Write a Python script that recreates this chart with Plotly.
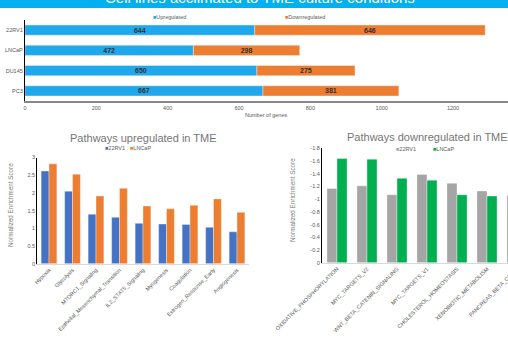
import plotly.graph_objects as go

# ---------------- data ----------------
cell_lines = ["22RV1", "LNCaP", "DU145", "PC3"]
up_genes = [644, 472, 650, 667]
down_genes = [646, 298, 275, 381]
gene_ticks = [0, 200, 400, 600, 800, 1000, 1200]
gene_tick_text = ["0", "200", "400", "600", "800", "1000", "1200"]

up_pathways = ["Hypoxia", "Glycolysis", "MTORC1_Signaling",
               "Epithelial_Mesenchymal_Transition", "IL2_STAT5_Signaling",
               "Myogenesis", "Coagulation", "Estrogen_Response_Early",
               "Angiogenesis"]
up_22rv1 = [2.62, 2.05, 1.40, 1.31, 1.14, 1.12, 1.11, 1.03, 0.90]
up_lncap = [2.82, 2.53, 1.91, 2.13, 1.63, 1.55, 1.65, 1.83, 1.45]
up_ticks = [0, 0.5, 1, 1.5, 2, 2.5, 3]
up_tick_text = ["0", "0.5", "1", "1.5", "2", "2.5", "3"]

down_pathways = ["OXIDATIVE_PHOSPHORYLATION", "MYC_TARGETS_V2",
                 "WNT_BETA_CATENIN_SIGNALING", "MYC_TARGETS_V1",
                 "CHOLESTEROL_HOMEOSTASIS", "XENOBIOTIC_METABOLISM",
                 "PANCREAS_BETA_CELLS"]
down_22rv1 = [-1.17, -1.21, -1.07, -1.39, -1.25, -1.13, -1.06]
down_lncap = [-1.64, -1.63, -1.33, -1.30, -1.07, -1.05, -1.00]
down_ticks = [0, -0.2, -0.4, -0.6, -0.8, -1.0, -1.2, -1.4, -1.6, -1.8]
down_tick_text = ["0", "-0.2", "-0.4", "-0.6", "-0.8", "-1", "-1.2", "-1.4", "-1.6", "-1.8"]

# ---------------- layout helpers ----------------
W, H = 540, 344
FONT = "Arial, Liberation Sans, sans-serif"
TICKC = "#595959"


def px(x):
    return x / W


def py(y):
    return 1 - y / H


edge = dict(color="rgba(255,255,255,0.6)", width=0.6)
barfont = dict(size=7, color="#303030", family=FONT, weight="bold")
fig = go.Figure()

# top stacked bars
fig.add_trace(go.Bar(y=cell_lines, x=up_genes, orientation="h", name="Upregulated",
                     marker=dict(color="#1FA8EC", line=edge),
                     text=up_genes, textposition="inside", insidetextanchor="middle",
                     textfont=barfont, constraintext="none",
                     offsetgroup="top", width=0.5,
                     xaxis="x", yaxis="y", showlegend=False))
fig.add_trace(go.Bar(y=cell_lines, x=down_genes, base=up_genes, orientation="h",
                     name="Downregulated",
                     marker=dict(color="#ED7D31", line=edge),
                     text=down_genes, textposition="inside", insidetextanchor="middle",
                     textfont=barfont, constraintext="none",
                     offsetgroup="top", width=0.5,
                     xaxis="x", yaxis="y", showlegend=False))

# bottom-left grouped bars
fig.add_trace(go.Bar(x=up_pathways, y=up_22rv1, name="22RV1",
                     marker=dict(color="#4472C4", line=edge),
                     xaxis="x2", yaxis="y2", showlegend=False))
fig.add_trace(go.Bar(x=up_pathways, y=up_lncap, name="LNCaP",
                     marker=dict(color="#ED7D31", line=edge),
                     xaxis="x2", yaxis="y2", showlegend=False))

# bottom-right grouped bars
fig.add_trace(go.Bar(x=down_pathways, y=down_22rv1, name="22RV1",
                     marker=dict(color="#A5A5A5", line=edge),
                     xaxis="x3", yaxis="y3", showlegend=False))
fig.add_trace(go.Bar(x=down_pathways, y=down_lncap, name="LNCaP",
                     marker=dict(color="#00B050", line=edge),
                     xaxis="x3", yaxis="y3", showlegend=False))

tickfont = dict(size=5.5, color=TICKC, family=FONT)
common = dict(automargin=False, showgrid=False, zeroline=False, ticks="", tickfont=tickfont)

fig.update_layout(
    width=W, height=H,
    margin=dict(l=0, r=0, t=0, b=0, autoexpand=False),
    paper_bgcolor="white", plot_bgcolor="white",
    barmode="group", bargap=0.33, bargroupgap=0,
    font=dict(family=FONT),
    xaxis=dict(domain=[px(25), px(508)], range=[0, 1354], tickvals=gene_ticks,
               ticktext=gene_tick_text, showline=True, linecolor="#888888",
               linewidth=2, anchor="y", **common),
    yaxis=dict(domain=[py(101), py(20)], autorange="reversed", showline=True,
               linecolor="#000000", linewidth=1.2, anchor="x", **common),
    xaxis2=dict(domain=[px(37.25), px(248.75)], tickangle=-45, showline=True,
                linecolor="#D9D9D9", linewidth=1, anchor="y2", **common),
    yaxis2=dict(domain=[py(263.7), py(157.5)], range=[0, 3], tickvals=up_ticks,
                ticktext=up_tick_text, showline=True, linecolor="#000000",
                linewidth=1.2, anchor="x2", **common),
    xaxis3=dict(domain=[px(322), px(532)], tickangle=-45, showline=True,
                linecolor="#D9D9D9", linewidth=1, anchor="y3", **common),
    yaxis3=dict(domain=[py(262.7), py(148.4)], range=[0, -1.8], tickvals=down_ticks,
                ticktext=down_tick_text, showline=True, linecolor="#000000",
                linewidth=1.2, anchor="x3", **common),
)

# banner
fig.add_shape(type="rect", xref="paper", yref="paper", x0=0, x1=1, y0=py(8), y1=1.05,
              fillcolor="#00B0F0", line=dict(width=0), layer="below")
ann = []
ann.append(dict(text="Cell lines acclimated to TME culture conditions", x=px(260), y=py(-2),
                xref="paper", yref="paper", showarrow=False, xanchor="center", yanchor="middle",
                font=dict(size=15, color="white", family=FONT)))


def leg(x, y, color, label):
    ann.append(dict(text=f"<span style='color:{color}'>■</span>{label}", x=px(x), y=py(y),
                    xref="paper", yref="paper", showarrow=False, xanchor="left", yanchor="middle",
                    font=dict(size=5.5, color=TICKC, family=FONT)))


leg(151, 17, "#1FA8EC", "Upregulated")
leg(283, 17, "#ED7D31", "Downregulated")
leg(103, 148, "#4472C4", "22RV1")
leg(128, 148, "#ED7D31", "LNCaP")
leg(394, 149, "#A5A5A5", "22RV1")
leg(431, 149, "#00B050", "LNCaP")

ann.append(dict(text="Number of genes", x=px(266), y=py(115), xref="paper", yref="paper",
                showarrow=False, xanchor="center", yanchor="middle",
                font=dict(size=5.5, color=TICKC, family=FONT)))
ann.append(dict(text="Pathways upregulated in TME", x=px(143), y=py(138), xref="paper", yref="paper",
                showarrow=False, xanchor="center", yanchor="middle",
                font=dict(size=11, color="#767676", family=FONT)))
ann.append(dict(text="Pathways downregulated in TME", x=px(427), y=py(137), xref="paper", yref="paper",
                showarrow=False, xanchor="center", yanchor="middle",
                font=dict(size=11, color="#767676", family=FONT)))
ann.append(dict(text="Normalized Enrichment Score", x=px(11), y=py(205), xref="paper", yref="paper",
                showarrow=False, xanchor="center", yanchor="middle", textangle=-90,
                font=dict(size=6.3, color="#7F7F7F", family=FONT)))
ann.append(dict(text="Normalized Enrichment Score", x=px(292), y=py(200), xref="paper", yref="paper",
                showarrow=False, xanchor="center", yanchor="middle", textangle=-90,
                font=dict(size=6.3, color="#7F7F7F", family=FONT)))
fig.update_layout(annotations=ann)

fig.write_html("out.html", config={"displayModeBar": False},
               post_script="document.documentElement.style.overflow='hidden';document.body.style.overflow='hidden';document.body.style.margin='0';")
